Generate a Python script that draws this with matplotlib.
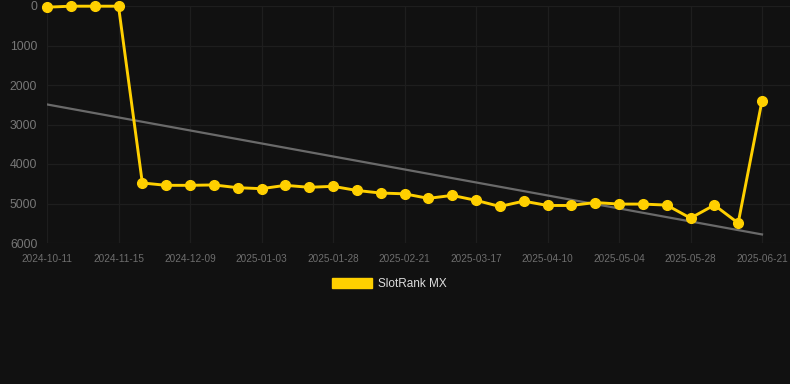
import matplotlib
matplotlib.use('Agg')
import matplotlib.pyplot as plt
from matplotlib.patches import Patch
import numpy as np

# rank per observation (lower is better, axis is inverted)
ranks = [30, 5, 5, 5, 4480, 4540, 4540, 4530, 4600, 4625, 4540, 4590, 4565,
         4670, 4735, 4755, 4870, 4795, 4920, 5075, 4940, 5050, 5050, 4975,
         5015, 5015, 5040, 5370, 5040, 5495, 2400]
tick_pos = [0, 3, 6, 9, 12, 15, 18, 21, 24, 27, 30]
tick_labels = ['2024-10-11', '2024-11-15', '2024-12-09', '2025-01-03', '2025-01-28',
               '2025-02-21', '2025-03-17', '2025-04-10', '2025-05-04', '2025-05-28',
               '2025-06-21']
series_name = 'SlotRank MX'

bg = '#111111'
yellow = '#FFD000'
plt.rcParams['font.family'] = ['Liberation Sans', 'DejaVu Sans']

fig = plt.figure(figsize=(7.9, 3.84), dpi=100, facecolor=bg)
ax = fig.add_axes([47/790, 1 - 243/384, (790 - 47)/790, 237/384], facecolor=bg)

x = np.arange(len(ranks))
# linear trend over the whole series
k, b = np.polyfit(x, ranks, 1)
ax.plot([x[0], x[-1]], [k*x[0] + b, k*x[-1] + b], color='#6a6a6a', lw=1.6, zorder=2)

ax.plot(x, ranks, color=yellow, lw=2.1, marker='o', ms=7, mec=yellow, mfc=yellow,
        zorder=3, clip_on=False)

ax.set_xlim(0, 30 * 743 / 715)
ax.set_ylim(6000, 0)
ax.set_yticks([0, 1000, 2000, 3000, 4000, 5000, 6000])
ax.set_xticks(tick_pos)
ax.set_xticklabels(tick_labels)
ax.tick_params(axis='y', length=0, pad=7, labelsize=8.8, labelcolor='#777777')
ax.tick_params(axis='x', length=0, pad=8, labelsize=7.2, labelcolor='#6e6e6e')
ax.grid(True, color='#1e1e1e', lw=0.9)
for s in ax.spines.values():
    s.set_visible(False)

fig.legend(handles=[Patch(facecolor=yellow, edgecolor=yellow, label=series_name)],
           loc='center', bbox_to_anchor=(389.5/790, 1 - 284/384), frameon=False,
           fontsize=8.5, labelcolor='#dddddd', handlelength=3.4, handleheight=1.0,
           handletextpad=0.5)

fig.savefig('out.png', dpi=100, facecolor=bg)
